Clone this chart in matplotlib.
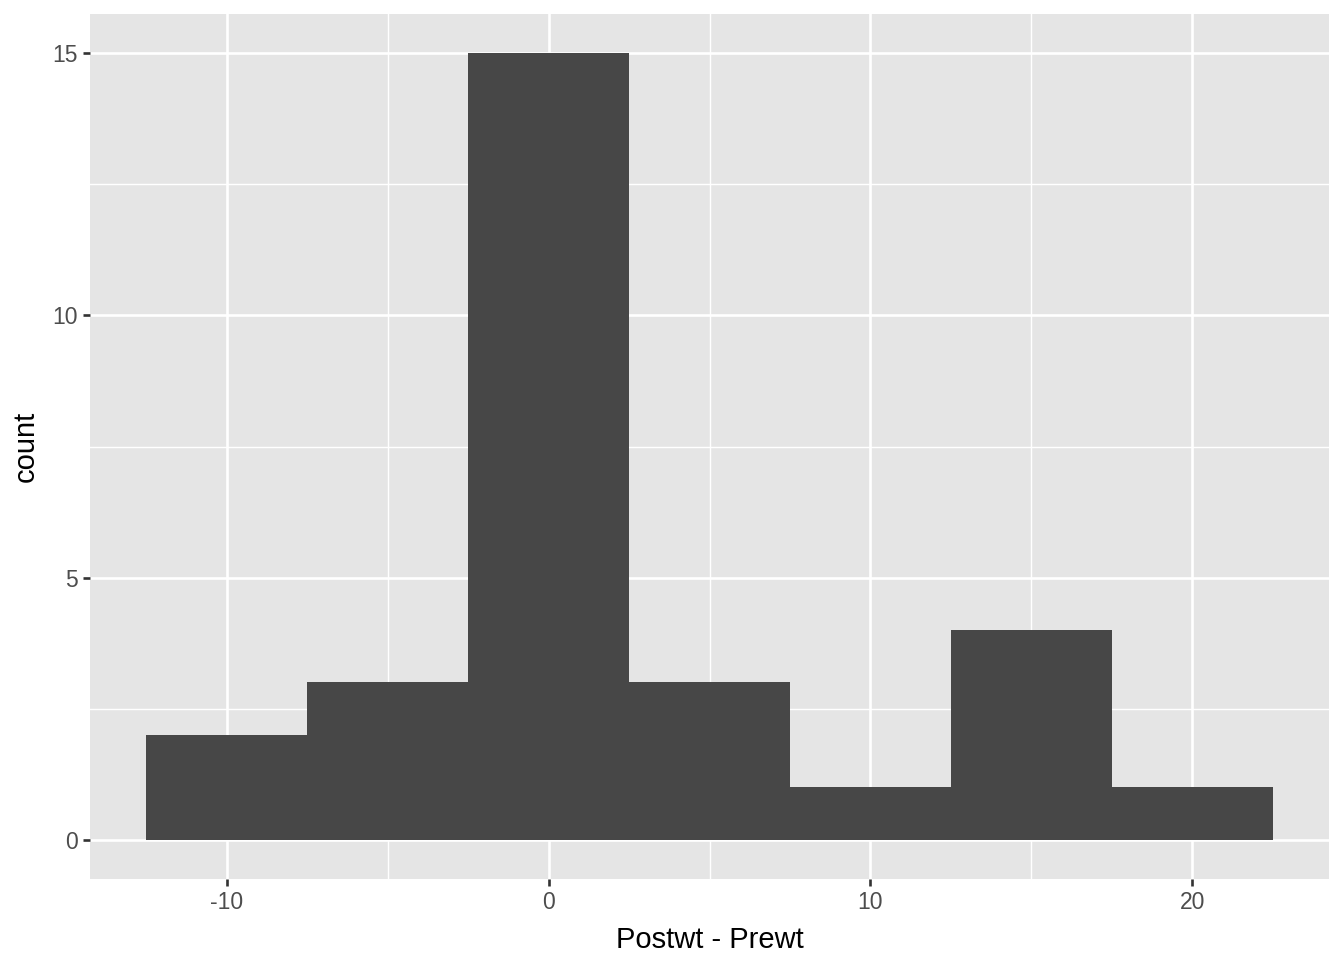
import matplotlib
matplotlib.use("Agg")
import matplotlib.pyplot as plt
import numpy as np

bin_centers = [-10, -5, 0, 5, 10, 15, 20]
counts = [2, 3, 15, 3, 1, 4, 1]
bin_width = 5
x_ticks = [-10, 0, 10, 20]
y_ticks = [0, 5, 10, 15]

plt.rcParams['font.family'] = ['Liberation Sans', 'DejaVu Sans']
plt.rcParams['axes.unicode_minus'] = False

fig = plt.figure(figsize=(13.44, 9.6), dpi=100)
ax = fig.add_axes([90/1344, 1-879/960, (1329-90)/1344, (879-14)/960])
ax.set_facecolor('#e5e5e5')
for s in ax.spines.values():
    s.set_visible(False)

ax.set_xlim(-14.25, 24.25)
ax.set_ylim(-0.75, 15.75)

for v in [-5, 5, 15]:
    ax.axvline(v, color='white', lw=1.0, zorder=0)
for v in [2.5, 7.5, 12.5]:
    ax.axhline(v, color='white', lw=1.0, zorder=0)
for v in x_ticks:
    ax.axvline(v, color='white', lw=1.9, zorder=0)
for v in y_ticks:
    ax.axhline(v, color='white', lw=1.9, zorder=0)

ax.bar(bin_centers, counts, width=bin_width, color='#474747', zorder=2, linewidth=0)

ax.set_xticks(x_ticks)
ax.set_yticks(y_ticks)
ax.tick_params(axis='both', colors='#333333', length=5, width=1.9, labelsize=16.5, labelcolor='#4d4d4d', pad=3.5)
ax.set_xlabel('Postwt - Prewt', fontsize=21, color='black', labelpad=9)
ax.set_ylabel('count', fontsize=21, color='black', labelpad=9)

fig.savefig('out.png', dpi=100)
